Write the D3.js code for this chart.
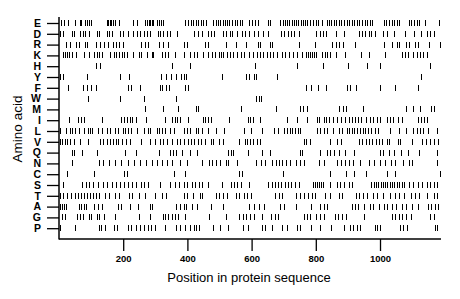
<!DOCTYPE html>
<html>
<head>
<meta charset="utf-8">
<script src="https://cdn.jsdelivr.net/npm/d3@7"></script>
<style>
  body { margin: 0; background: #fff; }
  svg { display: block; }
  text { font-family: "Liberation Sans", Arial, sans-serif; fill: #000; }
</style>
</head>
<body>
<svg id="chart" width="460" height="299"></svg>
<script>
/**
 * @Data  positions of each residue along the sequence
 */
const aminoAcids = ['E','D','R','K','H','Y','F','W','M','I','L','V','Q','N','C','S','T','A','G','P']
const xTicks = [200, 400, 600, 800, 1000]
const seqLength = 1190

const E = [7,16,28,50,64,70,81,87,93,100,150,154,158,163,168,176,188,232,242,268,274,279,284,289,294,305,310,318,325,394,403,410,418,426,434,442,450,458,481,488,495,502,510,517,524,531,540,548,556,563,571,592,600,610,621,652,658,690,697,704,711,718,725,732,739,746,753,760,767,774,781,792,800,808,820,834,840,848,856,864,872,880,888,896,904,912,920,928,936,944,952,960,968,976,1012,1020,1028,1036,1044,1052,1060,1090,1098,1106,1114,1122,1140,1185]
const D = [4,12,40,48,66,75,81,92,118,124,149,157,164,191,199,216,232,242,253,265,274,284,307,315,325,336,346,367,421,434,447,463,473,484,510,520,533,538,556,569,580,591,608,619,634,650,692,702,712,723,733,749,800,812,822,832,862,887,934,944,954,965,973,985,1008,1022,1043,1079,1105,1128,1145,1157,1168]
const R = [23,34,52,63,80,88,115,127,140,153,167,177,188,200,257,268,278,310,325,340,390,398,455,465,520,552,584,619,627,656,665,749,796,852,863,873,884,923,1012,1036,1053,1060,1081,1090,1110,1119,1152,1188]
const K = [14,20,25,30,40,54,77,95,110,118,126,134,159,170,178,186,195,203,211,232,249,257,274,289,294,320,331,341,362,388,408,419,429,450,465,476,486,497,504,512,523,533,543,556,566,576,593,605,616,626,637,647,657,668,680,694,704,717,728,740,756,769,776,782,788,794,800,820,828,836,845,862,890,940,966,1016,1068,1078,1088,1104,1114,1124,1134,1147]
const H = [114,128,351,408,610,741,822,901,958,1000,1156]
const Y = [4,12,86,190,217,318,334,348,365,379,388,395,507,584,592,606,614,679,1128]
const F = [27,76,88,100,114,216,224,252,314,321,334,343,394,401,771,786,808,832,897,905,924,1000,1046,1119]
const W = [90,189,264,365,615,622,629]
const M = [268,324,370,426,433,567,675,751,760,774,873,884,895,946,1082,1104,1126,1158,1168]
const I = [30,60,70,78,135,194,202,211,220,228,240,270,330,352,360,368,376,403,449,456,465,475,529,588,595,603,627,711,742,772,804,811,824,832,842,855,866,880,892,902,912,921,931,942,957,968,978,990,1001,1022,1030,1040,1055,1068,1117,1127,1137,1146]
const L = [2,21,34,42,49,63,77,91,96,104,122,135,148,160,174,184,198,205,214,223,242,264,278,285,305,313,320,331,346,359,388,398,408,426,434,445,465,489,515,575,598,631,671,681,702,710,719,727,735,744,752,804,812,826,834,854,872,882,896,904,912,920,928,937,946,954,963,972,983,994,1030,1058,1080,1104,1114,1124,1134,1150,1176]
const V = [3,10,18,26,33,48,65,90,127,138,150,160,169,177,185,195,208,222,257,283,300,315,325,336,351,367,377,388,403,412,419,434,442,455,473,481,499,512,562,580,587,595,605,616,626,762,771,783,845,866,880,934,945,955,966,976,986,997,1007,1021,1029,1055,1063,1099,1132,1142,1156,1167,1182]
const Q = [40,48,71,118,206,241,310,346,354,366,383,407,430,527,535,543,589,633,657,750,758,813,835,845,858,872,892,920,999,1008,1028,1044,1064,1086,1120,1178]
const N = [40,125,136,155,175,194,214,235,252,271,289,305,320,335,351,377,400,447,466,478,489,502,520,528,556,614,629,642,663,676,686,696,706,720,738,752,764,809,824,866,878,890,904,916,937,966,982,1001,1016,1034,1047,1073,1090,1100,1178]
const C = [25,110,202,213,358,394,560,570,697,845,893,918,957,1022,1046,1186]
const S = [14,72,83,95,107,120,138,150,166,178,190,202,214,226,240,254,266,276,315,346,360,375,388,400,413,425,437,447,463,507,536,546,556,568,593,652,662,672,683,693,703,713,724,734,749,790,796,803,809,815,821,845,866,876,887,902,912,973,980,987,994,1002,1009,1016,1023,1031,1038,1045,1052,1060,1068,1076,1089,1104,1118,1130,1146,1156,1167,1177]
const T = [4,12,24,37,51,60,69,78,86,96,106,116,126,144,155,175,187,217,226,250,268,300,320,334,388,400,416,440,447,488,499,510,522,552,562,575,587,597,672,684,696,738,750,763,775,789,798,829,843,872,883,926,936,946,960,978,990,1010,1030,1046,1060,1074,1098,1108,1120,1145,1168,1178]
const A = [3,9,15,21,62,70,78,85,110,122,135,184,193,221,246,282,291,363,376,388,397,415,429,473,510,592,608,623,639,690,701,737,784,814,825,834,912,922,932,950,968,978,996,1012,1022,1037,1050,1068,1080,1100,1118,1150,1160,1170,1180]
const G = [10,19,56,65,76,92,100,117,126,140,176,250,283,323,331,341,351,362,372,393,467,520,561,572,584,596,606,632,660,672,683,762,772,781,802,812,826,860,870,882,895,950,1036,1047,1059,1070,1081,1098,1157,1168]
const P = [4,50,124,131,143,172,180,216,225,240,252,264,276,288,300,331,365,377,393,408,419,428,437,479,500,528,572,590,633,641,664,694,709,740,750,785,812,848,887,907,917,927,937,984,992,1001,1062,1072,1085,1172,1178]

const positions = {E, D, R, K, H, Y, F, W, M, I, L, V, Q, N, C, S, T, A, G, P}

// flatten into one list of marks
const marks = aminoAcids.map(aa => positions[aa].map(p => ({aa, p}))).flat()


/**
 * @Layout
 */
const plotLeft = 59
const plotRight = 441
const axisY = 239

const scaleX = d3.scaleLinear().domain([0, seqLength]).range([plotLeft, plotRight])
const scaleY = d3.scalePoint().domain(aminoAcids).range([23, 228.2])

const svg = d3.select('#chart')


/**
 * @Marks
 */
svg.append('g')
    .attr('shape-rendering', 'crispEdges')
    .selectAll('line')
    .data(marks)
    .enter()
    .append('line')
    .attr('x1', d => Math.round(scaleX(d.p)) + 0.5)
    .attr('x2', d => Math.round(scaleX(d.p)) + 0.5)
    .attr('y1', d => Math.round(scaleY(d.aa)) - 3)
    .attr('y2', d => Math.round(scaleY(d.aa)) + 3)
    .attr('stroke', '#000')
    .attr('stroke-width', 1)


/**
 * @Axes
 */
const axisLeft = svg.append('g')
    .attr('transform', `translate(${plotLeft},0)`)
    .call(d3.axisLeft(scaleY).tickSize(12).tickPadding(6))
axisLeft.select('.domain').remove()
axisLeft.selectAll('line').attr('stroke-width', 1.3)
axisLeft.selectAll('text')
    .attr('font-size', 10.5)
    .attr('font-weight', 'bold')
    .attr('font-family', '"Liberation Sans", Arial, sans-serif')

svg.append('line')
    .attr('x1', plotLeft).attr('x2', plotLeft)
    .attr('y1', 17).attr('y2', axisY + 0.5)
    .attr('stroke', '#000')
    .attr('stroke-width', 1.5)

const axisBottom = svg.append('g')
    .attr('transform', `translate(0,${axisY})`)
    .call(d3.axisBottom(scaleX).tickValues(xTicks).tickFormat(d3.format('d')).tickSize(12).tickPadding(4))
axisBottom.select('.domain')
    .attr('d', `M${plotLeft},0H${plotRight}`)
    .attr('stroke-width', 1.5)
axisBottom.selectAll('.tick line').attr('stroke-width', 1.3)
axisBottom.selectAll('text')
    .attr('font-size', 9.5)
    .attr('font-weight', 'bold')
    .attr('font-family', '"Liberation Sans", Arial, sans-serif')


/**
 * @Titles
 */
svg.append('text')
    .attr('x', 249)
    .attr('y', 282)
    .attr('text-anchor', 'middle')
    .attr('font-size', 13)
    .text('Position in protein sequence')

svg.append('text')
    .attr('transform', 'translate(22,129) rotate(-90)')
    .attr('text-anchor', 'middle')
    .attr('font-size', 13.5)
    .text('Amino acid')
</script>
</body>
</html>
